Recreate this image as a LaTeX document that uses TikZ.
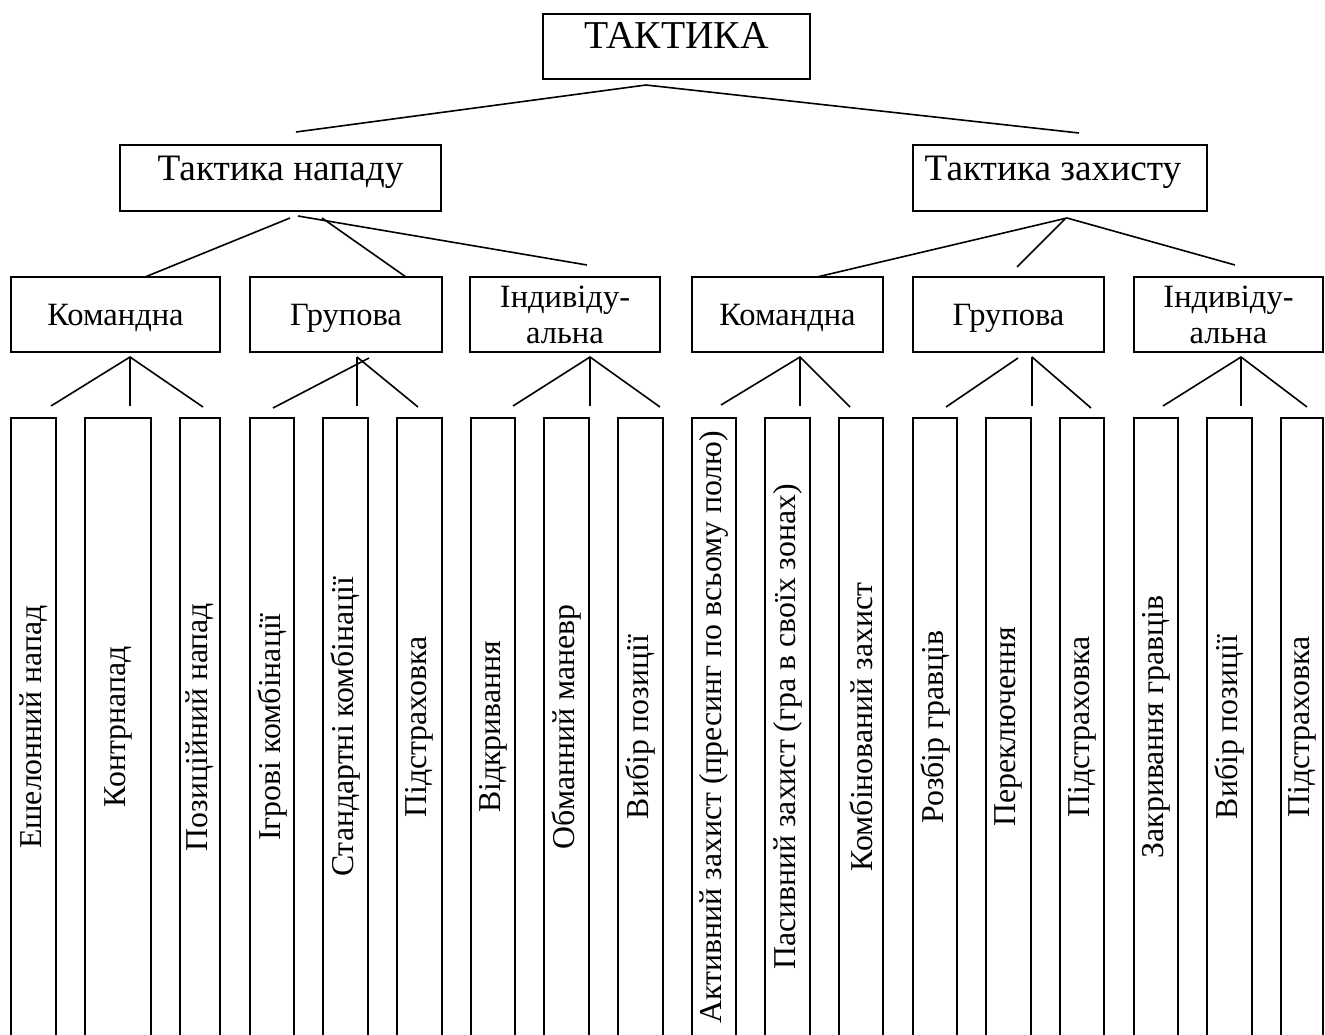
\documentclass[tikz,border=0pt]{standalone}
\usepackage{fontspec}
\setmainfont{Liberation Serif}
\usepackage{tikz}
\usetikzlibrary{shapes.geometric}
\tikzstyle{line} = [draw, line width=1.6pt]
\tikzstyle{mainbox} = [rectangle, draw=black, line width=1.8pt, inner sep=0pt, font=\fontsize{37.3}{42}\selectfont]
\tikzstyle{kindbox} = [rectangle, draw=black, line width=1.8pt, inner sep=0pt, minimum height=75pt, align=center, font=\fontsize{32.5}{36}\selectfont]
\tikzstyle{oneline} = [text height=48pt, text depth=27pt]
\tikzstyle{leafbox} = [rectangle, draw=black, line width=1.8pt, inner sep=0pt, rotate=90, minimum width=618pt, font=\fontsize{31.8}{36}\selectfont]

\begin{document}
\begin{tikzpicture}[x=1pt, y=-1pt]
\useasboundingbox (0,0) rectangle (1325,1034);
\clip (0,0) rectangle (1325,1034);

\node (tac) [mainbox, minimum width=267pt, text height=34pt, text depth=31pt, font=\fontsize{39.5}{42}\selectfont] at (676.5,46.5) {ТАКТИКА};

\node (att) [mainbox, minimum width=321pt, text height=35pt, text depth=31pt] at (280.5,178) {Тактика нападу};
\node (def) [mainbox, minimum width=294pt, text height=35pt, text depth=31pt] at (1060,178) {Тактика захисту\hspace*{14pt}};

\node (a1) [kindbox, oneline, minimum width=209pt] at (115.5,314.5) {Командна};
\node (a2) [kindbox, oneline, minimum width=192pt] at (346,314.5) {Групова};
\node (a3) [kindbox, minimum width=190pt] at (565,314.5) {Індивіду-\\альна};
\node (d1) [kindbox, oneline, minimum width=191pt] at (787.5,314.5) {Командна};
\node (d2) [kindbox, oneline, minimum width=191pt] at (1008.5,314.5) {Групова};
\node (d3) [kindbox, minimum width=189pt] at (1228.5,314.5) {Індивіду-\\альна};

%leaves of attack
\node (l1) [leafbox, minimum height=45pt] at (33.5,727) {Ешелонний напад};
\node (l2) [leafbox, minimum height=66pt] at (118,727) {Контрнапад};
\node (l3) [leafbox, minimum height=40pt] at (200,727) {Позиційний напад};
\node (l4) [leafbox, minimum height=44pt] at (272,727) {Ігрові комбінації};
\node (l5) [leafbox, minimum height=45pt] at (345.5,727) {Стандартні комбінації};
\node (l6) [leafbox, minimum height=45pt] at (419.5,727) {Підстраховка};
\node (l7) [leafbox, minimum height=44pt] at (493,727) {Відкривання};
\node (l8) [leafbox, minimum height=45pt] at (566.5,727) {Обманний маневр};
\node (l9) [leafbox, minimum height=45pt] at (640.5,727) {Вибір позиції};
%leaves of defence
\node (l10) [leafbox, minimum height=44pt] at (714,727) {Активний захист (пресинг по всьому полю)};
\node (l11) [leafbox, minimum height=45pt] at (787.5,727) {Пасивний захист (гра в своїх зонах)};
\node (l12) [leafbox, minimum height=44pt] at (861,727) {Комбінований захист};
\node (l13) [leafbox, minimum height=44pt] at (935,727) {Розбір гравців};
\node (l14) [leafbox, minimum height=45pt] at (1008.5,727) {Переключення};
\node (l15) [leafbox, minimum height=44pt] at (1082,727) {Підстраховка};
\node (l16) [leafbox, minimum height=44pt] at (1156,727) {Закривання гравців};
\node (l17) [leafbox, minimum height=45pt] at (1229.5,727) {Вибір позиції};
\node (l18) [leafbox, minimum height=42pt] at (1302,727) {Підстраховка};

\coordinate (t0) at (646,85);
\coordinate (t1) at (296,132);
\coordinate (t2) at (1079,133);
\draw [line] (t1) -- (t0) -- (t2);

\coordinate (at1) at (290,218);
\coordinate (at2) at (322,218);
\coordinate (at3) at (298,216);
\coordinate (ak1) at (145,277);
\coordinate (ak2) at (406,277);
\coordinate (ak3) at (587,265);
\draw [line] (at1) -- (ak1);
\draw [line] (at2) -- (ak2);
\draw [line] (at3) -- (ak3);

\coordinate (dt1) at (1067,218);
\coordinate (dt2) at (1065,219);
\coordinate (dk1) at (817,277);
\coordinate (dk2) at (1017,267);
\coordinate (dk3) at (1235,265);
\draw [line] (dk1) -- (dt1) -- (dk3);
\draw [line] (dt2) -- (dk2);

\coordinate (a1t) at (130,357);
\draw [line] (51,406) -- (a1t) -- (203,407);
\draw [line] (a1t) -- (130,406);
\coordinate (a2t) at (357,357);
\draw [line] (369,358) -- (273,408);
\draw [line] (a2t) -- (357,406);
\draw [line] (a2t) -- (418,407);
\coordinate (a3t) at (590,357);
\draw [line] (513,406) -- (a3t) -- (660,407);
\draw [line] (a3t) -- (590,406);

\coordinate (d1t) at (800,357);
\draw [line] (721,405) -- (d1t) -- (850,407);
\draw [line] (d1t) -- (800,406);
\coordinate (d2t) at (1032,357);
\draw [line] (1018,358) -- (946,407);
\draw [line] (d2t) -- (1032,406);
\draw [line] (d2t) -- (1091,408);
\coordinate (d3t) at (1241,357);
\draw [line] (1163,406) -- (d3t) -- (1307,407);
\draw [line] (d3t) -- (1241,406);
\end{tikzpicture}
\end{document}
